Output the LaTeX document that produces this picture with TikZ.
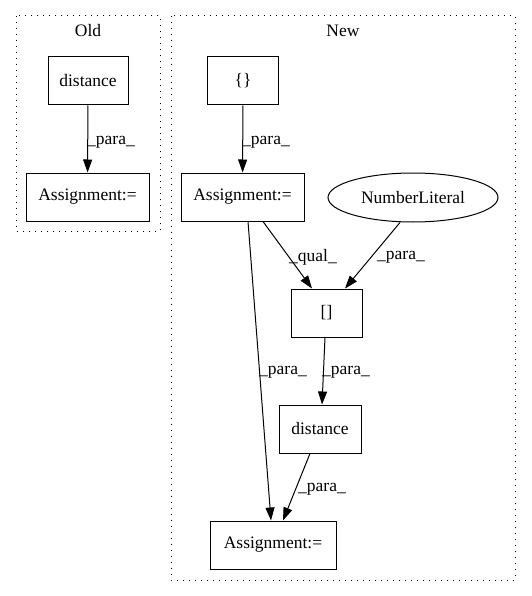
\documentclass[tikz,border=0pt]{standalone}
\usepackage{fontspec}
\setmainfont{Liberation Serif}
\usetikzlibrary{arrows.meta,shapes.geometric}
\begin{document}
\begin{tikzpicture}[x=1pt,y=-1pt,
  every node/.style={font=\fontsize{17.5}{20}\selectfont},
  box/.style={draw,line width=1pt,minimum height=48pt,inner sep=0pt},
  oval/.style={draw,ellipse,line width=1pt,minimum height=49pt,minimum width=170pt,inner sep=0pt},
  cluster/.style={draw,line width=1pt,dash pattern=on 1.3pt off 4.7pt},
  edge/.style={-{Triangle[length=13pt,width=9pt]},line width=1pt},
  lbl/.style={anchor=west,inner sep=0pt}]
\useasboundingbox (0,0) rectangle (531,596);
\draw[cluster] (16,16) rectangle (160,231);
\draw[cluster] (171,16) rectangle (515,580);
\node (oldt) at (88,31) {Old};
\node (newt) at (343,31) {New};
\node[box,minimum width=80pt] (od) at (88,81) {distance};
\node[box,minimum width=123pt] (oa) at (87.5,197) {Assignment:=};
\node[box,minimum width=71pt] (br) at (243,81) {\{\}};
\node[box,minimum width=123pt] (na) at (242.5,197) {Assignment:=};
\node[oval] (nl) at (413,197.5) {NumberLiteral};
\node[box,minimum width=71pt] (idx) at (326.5,313) {[]};
\node[box,minimum width=82pt] (nd) at (320,429) {distance};
\node[box,minimum width=126pt] (nb) at (273,545) {Assignment:=};
\draw[edge] (od) -- (oa);
\node[lbl] (l1) at (87,142) {\_para\_};
\draw[edge] (br) -- (na);
\node[lbl] (l2) at (242,142) {\_para\_};
\draw[edge] ([xshift=5.5pt]na.south) -- ([xshift=-2pt]nb.north);
\node[lbl] (l3) at (259,372) {\_para\_};
\draw[edge] ([xshift=20.5pt]na.south) -- ([xshift=-14.5pt]idx.north);
\node[lbl] (l4) at (289,257) {\_qual\_};
\draw[edge] ([xshift=-13pt]nl.south) -- ([xshift=18.5pt]idx.north);
\node[lbl] (l5) at (377,257) {\_para\_};
\draw[edge] ([xshift=-1.5pt]idx.south) -- ([xshift=2pt]nd.north);
\node[lbl] (l6) at (322,372) {\_para\_};
\draw[edge] ([xshift=-10pt]nd.south) -- ([xshift=10pt]nb.north);
\node[lbl] (l7) at (298,489) {\_para\_};
\end{tikzpicture}
\end{document}
